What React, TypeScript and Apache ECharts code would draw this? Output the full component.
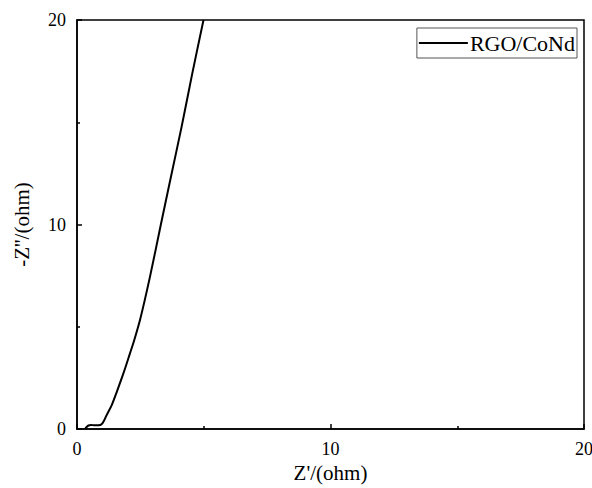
import React, { useEffect, useRef } from "react";
import * as echarts from "echarts";

const seriesName = "RGO/CoNd";
const zReal = [0.32, 0.38, 0.45, 0.55, 0.7, 0.85, 0.97, 1.07, 1.17, 1.37, 1.57, 1.83, 2.09, 2.26, 2.5, 2.88, 3.3, 3.7, 4.13, 4.55, 4.99];
const zImag = [0, 0.1, 0.17, 0.2, 0.18, 0.18, 0.23, 0.42, 0.68, 1.17, 1.82, 2.72, 3.7, 4.35, 5.4, 7.45, 9.95, 12.3, 14.8, 17.4, 20];
const xTitle = "Z'/(ohm)";
const yTitle = "-Z''/(ohm)";

const FONT = "Liberation Serif";

export default function App() {
  const ref = useRef<HTMLDivElement>(null);
  useEffect(() => {
    if (!ref.current) return;
    const chart = echarts.init(ref.current, null, { renderer: "svg" });
    const data = zReal.map((x, i) => [x, zImag[i]]);
    const axisCommon = {
      min: 0,
      max: 20,
      interval: 10,
      nameLocation: "middle" as const,
      nameTextStyle: { fontFamily: FONT, fontSize: 21, color: "#000" },
      axisLine: { show: true, onZero: false, lineStyle: { color: "#000", width: 1.5 } },
      axisTick: { show: true, inside: true, length: 5, lineStyle: { color: "#000", width: 1.5 } },
      minorTick: { show: true, splitNumber: 2, length: 3, lineStyle: { color: "#000", width: 1.5 } },
      axisLabel: { fontFamily: FONT, fontSize: 18, color: "#000", margin: 11, hideOverlap: false },
      splitLine: { show: false },
    };
    chart.setOption({
      animation: false,
      backgroundColor: "#fff",
      textStyle: { fontFamily: FONT, color: "#000" },
      grid: {
        left: 77,
        right: 8,
        top: 20,
        bottom: 59,
        containLabel: false,
        outerBoundsMode: "none",
        show: true,
        borderColor: "#000",
        borderWidth: 1.5,
        backgroundColor: "transparent",
      },
      legend: {
        show: true,
        right: 15,
        top: 28,
        orient: "vertical",
        data: [{ name: seriesName, icon: "rect" }],
        itemWidth: 49,
        itemHeight: 2,
        itemGap: 4,
        padding: [4, 2, 4, 2],
        borderColor: "#555",
        borderWidth: 1,
        textStyle: { fontFamily: FONT, fontSize: 22, color: "#000", padding: [0, 0, 0, -3] },
      },
      xAxis: { type: "value", name: xTitle, nameGap: 33, ...axisCommon },
      yAxis: { type: "value", name: yTitle, nameGap: 45, ...axisCommon },
      series: [
        {
          name: seriesName,
          type: "line",
          data,
          smooth: 0.3,
          showSymbol: false,
          symbol: "none",
          clip: true,
          lineStyle: { color: "#000", width: 2 },
          itemStyle: { color: "#000" },
        },
      ],
    });
    return () => chart.dispose();
  }, []);
  return <div ref={ref} style={{ width: 592, height: 488, position: "absolute", left: 0, top: 0 }} />;
}
